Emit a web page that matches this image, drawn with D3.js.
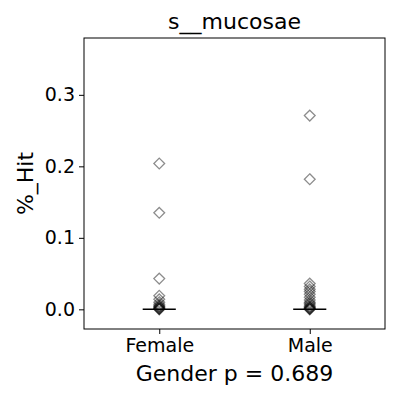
<!DOCTYPE html>
<html>
<head>
<meta charset="utf-8">
<script src="https://cdn.jsdelivr.net/npm/d3@7"></script>
<style>
body{margin:0;background:#fff}
svg{font-family:"DejaVu Sans",sans-serif}
</style>
</head>
<body>
<div id="chart"></div>
<script>
const groups = ["Female","Male"]
const femaleHits = [0.204,0.135,0.043,0.019,0.014,0.010,0.007,0.005,0.004,0.003,0.002,0.001,0.0005,0]
const maleHits = [0.271,0.182,0.036,0.032,0.028,0.025,0.021,0.017,0.013,0.010,0.008,0.006,0.004,0.003,0.002,0.001,0.0005,0]
const medians = [0,0]
const yTicks = [0,0.1,0.2,0.3]
const title = "s__mucosae"
const yLabel = "%_Hit"
const xLabel = "Gender p = 0.689"

const W=400,H=400
const m={left:84,right:15,top:38,bottom:71}

const svg=d3.select("#chart").append("svg").attr("width",W).attr("height",H)

const x=d3.scaleLinear().domain([0.5,2.5]).range([m.left,W-m.right])
const y=d3.scaleLinear().domain([-0.0275,0.3795]).range([H-m.bottom,m.top])

const series=[femaleHits,maleHits]

// fliers
const diamond=d3.symbol().type(d3.symbolDiamond2).size(74)
series.forEach((vals,i)=>{
	svg.append("g").selectAll("path").data(vals).enter().append("path")
		.attr("d",diamond)
		.attr("transform",d=>"translate("+x(i+1)+","+y(d)+")")
		.style("fill","none")
		.style("stroke","#000")
		.style("stroke-opacity",0.45)
		.style("stroke-width",1.3)
})

// medians
svg.append("g").selectAll("line").data(medians).enter().append("line")
	.attr("x1",(d,i)=>x(i+1)-x(0.11)+x(0))
	.attr("x2",(d,i)=>x(i+1)+x(0.11)-x(0))
	.attr("y1",d=>y(d)).attr("y2",d=>y(d))
	.style("stroke","#000").style("stroke-width",1.5)

// axes
const yAxis=svg.append("g").attr("transform","translate("+m.left+",0)")
	.call(d3.axisLeft(y).tickValues(yTicks).tickFormat(d3.format(".1f")).tickSize(5).tickPadding(4))
const xAxis=svg.append("g").attr("transform","translate(0,"+(H-m.bottom)+")")
	.call(d3.axisBottom(x).tickValues([1,2]).tickFormat((d,i)=>groups[i]).tickSize(5).tickPadding(5))
;[yAxis,xAxis].forEach(a=>{
	a.select(".domain").remove()
	a.selectAll("text").style("font-size","19px").style("fill","#000").style("font-family","DejaVu Sans")
	a.selectAll("line").style("stroke","#000")
})

svg.append("rect").attr("x",m.left).attr("y",m.top)
	.attr("width",W-m.left-m.right).attr("height",H-m.top-m.bottom)
	.style("fill","none").style("stroke","#000").style("stroke-width",1)

svg.append("text").attr("x",(m.left+W-m.right)/2).attr("y",29)
	.attr("text-anchor","middle").style("font-size","22px").text(title)
svg.append("text").attr("x",(m.left+W-m.right)/2).attr("y",381)
	.attr("text-anchor","middle").style("font-size","22px").text(xLabel)
svg.append("text").attr("transform","translate(33,"+(m.top+(H-m.top-m.bottom)/2)+") rotate(-90)")
	.attr("text-anchor","middle").style("font-size","22px").text(yLabel)
</script>
</body>
</html>
